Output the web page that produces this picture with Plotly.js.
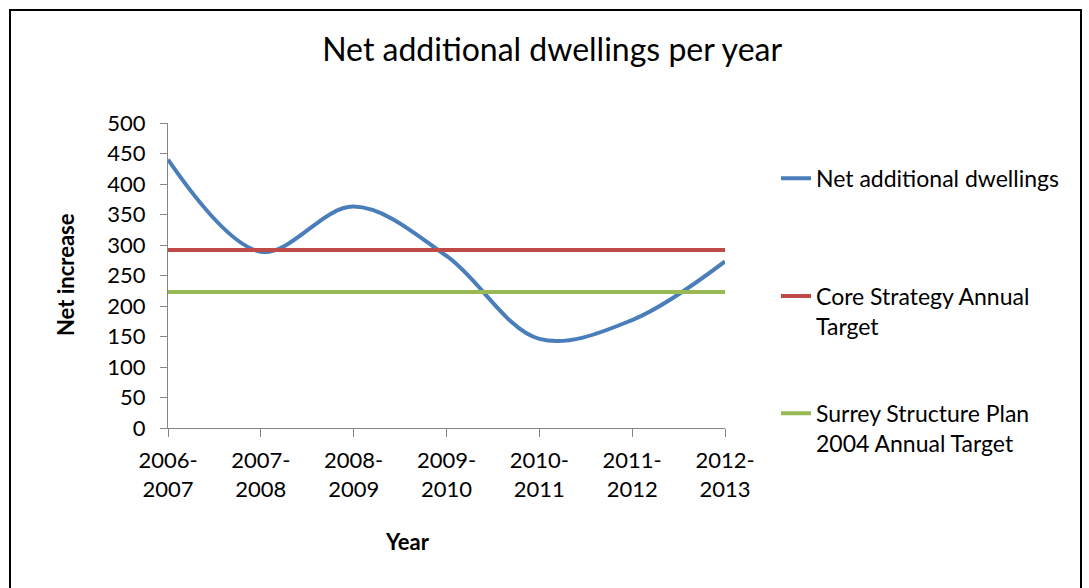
<!DOCTYPE html>
<html>
<head>
<meta charset="utf-8">
<script src="https://cdn.plot.ly/plotly-3.0.1.min.js"></script>
<style>
  html, body { margin: 0; padding: 0; background: #fff; }
  #wrap { position: relative; width: 1089px; height: 588px; overflow: hidden; }
  #chart { width: 1089px; height: 588px; }
  #frame { position: absolute; left: 9px; top: 9px; width: 1069px; height: 620px; border: 2px solid #000; pointer-events: none; }
</style>
</head>
<body>
<div id="wrap">
  <div id="chart"></div>
  <div id="frame"></div>
</div>
<script>
const categories = ["2006-<br>2007", "2007-<br>2008", "2008-<br>2009", "2009-<br>2010", "2010-<br>2011", "2011-<br>2012", "2012-<br>2013"];
const netDwellings = [440, 289, 363, 282, 146, 177, 273];
const coreStrategyTarget = [292, 292, 292, 292, 292, 292, 292];
const surreyPlanTarget = [223, 223, 223, 223, 223, 223, 223];
const seriesNames = ["Net additional dwellings", "Core Strategy Annual<br>Target", "Surrey Structure Plan<br>2004 Annual Target"];
const yTicks = [0, 50, 100, 150, 200, 250, 300, 350, 400, 450, 500];

const xIdx = categories.map((_, i) => i);
const FONT = "Lato, 'Open Sans', sans-serif";

const traces = [
  { x: xIdx, y: netDwellings, name: seriesNames[0], type: "scatter", mode: "lines",
    line: { color: "#4A7EBB", width: 4, shape: "spline", smoothing: 1 }, legend: "legend" },
  { x: xIdx, y: coreStrategyTarget, name: seriesNames[1], type: "scatter", mode: "lines",
    line: { color: "#BE4B48", width: 4 }, legend: "legend2" },
  { x: xIdx, y: surreyPlanTarget, name: seriesNames[2], type: "scatter", mode: "lines",
    line: { color: "#98B954", width: 4 }, legend: "legend3" }
];

const plotL = 168, plotR = 725, plotT = 122.5, plotB = 428.3;
const W = 1089, H = 588;
const pw = plotR - plotL, ph = plotB - plotT;
const px = v => (v - plotL) / pw;
const py = v => (plotB - v) / ph;

const legendBase = { font: { family: FONT, size: 23, color: "#000" }, bgcolor: "rgba(0,0,0,0)",
  xanchor: "left", yanchor: "middle", valign: "top", itemwidth: 30 };

const layout = {
  width: W, height: H,
  margin: { l: plotL, r: W - plotR, t: plotT, b: H - plotB },
  paper_bgcolor: "#fff", plot_bgcolor: "#fff",
  font: { family: FONT, color: "#000" },
  title: { text: "Net additional dwellings per year", font: { family: FONT, size: 32, color: "#000" },
    x: 0.507, xanchor: "center", y: 1 - 50 / H, yanchor: "middle" },
  xaxis: {
    range: [0, 6], tickvals: xIdx, ticktext: categories,
    showgrid: false, zeroline: false, showline: true, linecolor: "#868686", linewidth: 1,
    ticks: "outside", ticklen: 8, tickcolor: "#868686", ticklabelstandoff: 5,
    tickfont: { family: FONT, size: 22, color: "#000" }, fixedrange: true
  },
  yaxis: {
    range: [0, 500], tickvals: yTicks, ticktext: yTicks.map(String),
    showgrid: false, zeroline: false, showline: true, linecolor: "#868686", linewidth: 1,
    ticks: "outside", ticklen: 7, tickcolor: "#868686", ticklabelstandoff: 10,
    tickfont: { family: FONT, size: 22, color: "#000" }, fixedrange: true
  },
  annotations: [
    { text: "<b>Year</b>", xref: "paper", yref: "paper", x: px(407), y: py(542), showarrow: false,
      xanchor: "center", yanchor: "middle", font: { family: FONT, size: 22, color: "#000" } },
    { text: "<b>Net increase</b>", xref: "paper", yref: "paper", x: px(65), y: py(275), showarrow: false,
      textangle: -90, xanchor: "center", yanchor: "middle", font: { family: FONT, size: 22, color: "#000" } }
  ],
  showlegend: true,
  legend: Object.assign({}, legendBase, { x: px(776), y: py(178) }),
  legend2: Object.assign({}, legendBase, { x: px(776), y: py(311) }),
  legend3: Object.assign({}, legendBase, { x: px(776), y: py(428.5) })
};

Plotly.newPlot("chart", traces, layout, { displayModeBar: false, staticPlot: true });
</script>
</body>
</html>
